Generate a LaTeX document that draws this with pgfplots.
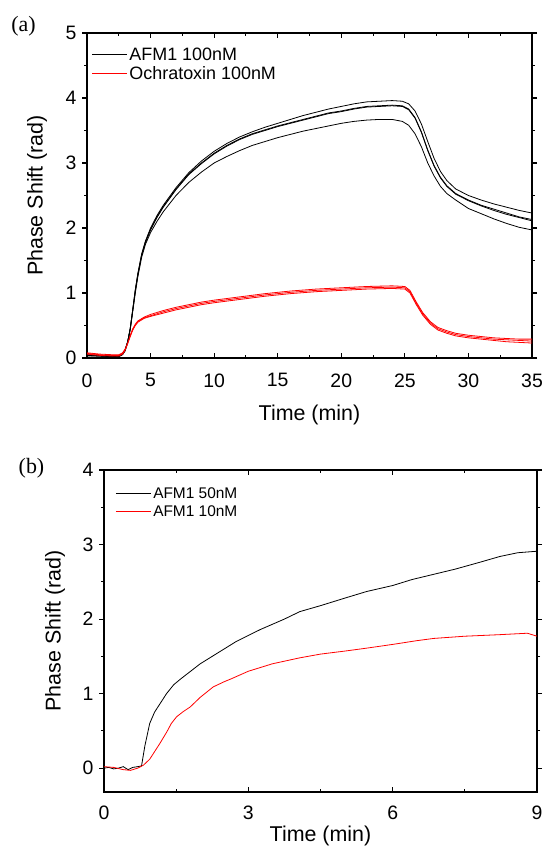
\documentclass[border=0pt]{standalone}
\usepackage{pgfplots}
\pgfplotsset{compat=1.18}
\usepackage{fontspec}
\setmainfont{Liberation Sans}
\newfontfamily\seriffont{Liberation Serif}

\pgfplotsset{
  panel/.style={
    scale only axis,
    axis line style={line width=1.4bp},
    every tick/.style={line width=1.1bp, black},
    major tick length=5bp, minor tick length=3bp,
    xtick align=inside, ytick align=outside,
    minor x tick num=1, minor y tick num=1,
    /pgf/number format/assume math mode=true,
    tick label style={font=\fontsize{19.5}{22}\selectfont},
    label style={font=\fontsize{21.5}{25}\selectfont},
    legend cell align=left,
    legend image code/.code={\draw[#1] (0bp,0bp) -- (35bp,0bp);},
  },
}

\begin{document}
\begin{tikzpicture}[x=1bp,y=1bp]
\useasboundingbox (0,0) rectangle (544,852);

% (a)
\begin{axis}[panel,
  at={(87bp,494bp)}, anchor=south west,
  width=445bp, height=325bp,
  xmin=0, xmax=35, ymin=0, ymax=5,
  xtick={0,5,...,35}, ytick={0,1,...,5},
  xticklabel style={yshift=-12bp},
  yticklabel style={xshift=-2bp},
  xlabel={Time (min)}, ylabel={Phase Shift (rad)},
  xlabel style={at={(axis description cs:0.5,-0.175)}, anchor=center},
  ylabel style={at={(axis description cs:-0.112,0.5)}, anchor=center},
  legend style={at={(axis description cs:0.01,0.962)}, anchor=north west,
    draw=none, fill=none, inner sep=0pt,
    font=\fontsize{18}{20}\selectfont, row sep=0.5bp},
]
\addplot[black, line width=0.8bp] coordinates {
(0,0.05)(1,0.04)(2,0.03)(2.5,0.03)(2.8,0.06)(3,0.12)(3.2,0.25)(3.4,0.45)(3.6,0.75)(3.8,1.05)(4,1.3)(4.3,1.6)(4.6,1.8)(5,2.0)(5.5,2.19)(6,2.35)(7,2.62)(8,2.85)(9,3.03)(10,3.18)(11,3.3)(12,3.4)(13,3.48)(14,3.55)(15,3.61)(16,3.67)(17,3.73)(18,3.78)(19,3.83)(20,3.87)(21,3.91)(22,3.94)(23,3.95)(24,3.96)(24.8,3.95)(25.3,3.91)(25.8,3.8)(26.3,3.6)(26.8,3.33)(27.3,3.07)(27.8,2.87)(28.3,2.73)(29,2.6)(30,2.5)(31,2.43)(32,2.37)(33,2.32)(34,2.27)(35,2.23)
};
\addplot[red, line width=0.8bp] coordinates {
(0,0.08)(0.5,0.07)(1,0.06)(2,0.05)(2.5,0.05)(2.8,0.08)(3,0.14)(3.2,0.24)(3.4,0.35)(3.6,0.45)(3.8,0.52)(4,0.57)(4.5,0.63)(5,0.67)(6,0.73)(7,0.78)(8,0.82)(9,0.86)(10,0.89)(12,0.94)(14,0.99)(16,1.03)(18,1.06)(20,1.08)(22,1.1)(24,1.11)(25,1.1)(25.4,1.04)(25.9,0.86)(26.4,0.7)(27,0.56)(27.6,0.47)(28.3,0.42)(29,0.38)(30,0.35)(31,0.33)(32,0.31)(33,0.3)(34,0.29)(35,0.29)
};
\legend{AFM1 100nM, Ochratoxin 100nM}
\addplot[black, line width=0.8bp] coordinates {
(0,0.04)(1,0.03)(2,0.03)(2.5,0.03)(2.8,0.06)(3,0.12)(3.2,0.25)(3.4,0.45)(3.6,0.74)(3.8,1.04)(4,1.29)(4.3,1.59)(4.6,1.79)(5,1.98)(5.5,2.17)(6,2.33)(7,2.6)(8,2.83)(9,3.0)(10,3.15)(11,3.27)(12,3.37)(13,3.45)(14,3.51)(15,3.57)(16,3.62)(17,3.67)(18,3.72)(19,3.77)(20,3.8)(21,3.84)(22,3.87)(23,3.88)(24,3.89)(24.8,3.88)(25.3,3.83)(25.8,3.7)(26.3,3.48)(26.8,3.2)(27.3,2.96)(27.8,2.78)(28.3,2.65)(29,2.53)(30,2.43)(31,2.35)(32,2.29)(33,2.23)(34,2.17)(35,2.13)
};
\addplot[black, line width=0.8bp] coordinates {
(0,0.04)(1,0.03)(2,0.02)(2.5,0.03)(2.8,0.06)(3,0.12)(3.2,0.25)(3.4,0.45)(3.6,0.74)(3.8,1.04)(4,1.28)(4.3,1.58)(4.6,1.78)(5,1.97)(5.5,2.16)(6,2.32)(7,2.59)(8,2.82)(9,2.99)(10,3.14)(11,3.26)(12,3.36)(13,3.44)(14,3.5)(15,3.56)(16,3.61)(17,3.66)(18,3.71)(19,3.76)(20,3.79)(21,3.83)(22,3.86)(23,3.87)(24,3.88)(24.8,3.87)(25.3,3.82)(25.8,3.69)(26.3,3.47)(26.8,3.19)(27.3,2.95)(27.8,2.77)(28.3,2.64)(29,2.52)(30,2.42)(31,2.34)(32,2.27)(33,2.21)(34,2.16)(35,2.11)
};
\addplot[black, line width=0.8bp] coordinates {
(0,0.03)(1,0.03)(2,0.02)(2.5,0.02)(2.8,0.05)(3,0.11)(3.2,0.24)(3.4,0.44)(3.6,0.72)(3.8,1.0)(4,1.25)(4.3,1.55)(4.6,1.75)(5,1.93)(5.5,2.1)(6,2.25)(7,2.5)(8,2.7)(9,2.86)(10,3.0)(11,3.1)(12,3.19)(13,3.27)(14,3.33)(15,3.39)(16,3.44)(17,3.49)(18,3.53)(19,3.57)(20,3.61)(21,3.64)(22,3.66)(23,3.67)(24,3.67)(24.8,3.64)(25.3,3.58)(25.8,3.45)(26.3,3.25)(26.8,3.0)(27.3,2.8)(27.8,2.64)(28.3,2.53)(29,2.43)(30,2.3)(31,2.22)(32,2.14)(33,2.07)(34,2.01)(35,1.97)
};
\addplot[red, line width=0.8bp] coordinates {
(0,0.07)(0.5,0.06)(1,0.05)(2,0.04)(2.5,0.04)(2.8,0.07)(3,0.13)(3.2,0.23)(3.4,0.34)(3.6,0.44)(3.8,0.51)(4,0.56)(4.5,0.62)(5,0.65)(6,0.71)(7,0.76)(8,0.8)(9,0.84)(10,0.87)(12,0.92)(14,0.97)(16,1.01)(18,1.04)(20,1.06)(22,1.08)(24,1.09)(25,1.08)(25.4,1.02)(25.9,0.84)(26.4,0.68)(27,0.54)(27.6,0.45)(28.3,0.4)(29,0.36)(30,0.33)(31,0.31)(32,0.29)(33,0.28)(34,0.27)(35,0.26)
};
\addplot[red, line width=0.8bp] coordinates {
(0,0.06)(0.5,0.05)(1,0.04)(2,0.03)(2.5,0.03)(2.8,0.06)(3,0.12)(3.2,0.22)(3.4,0.33)(3.6,0.43)(3.8,0.5)(4,0.55)(4.5,0.61)(5,0.64)(6,0.69)(7,0.74)(8,0.78)(9,0.82)(10,0.85)(12,0.9)(14,0.95)(16,0.99)(18,1.02)(20,1.04)(22,1.06)(24,1.07)(25,1.06)(25.4,1.0)(25.9,0.82)(26.4,0.66)(27,0.52)(27.6,0.43)(28.3,0.38)(29,0.34)(30,0.31)(31,0.29)(32,0.27)(33,0.25)(34,0.24)(35,0.23)
};
\end{axis}

% (b)
\begin{axis}[panel,
  at={(104bp,60bp)}, anchor=south west,
  width=433bp, height=322bp,
  xmin=0, xmax=9, ymin=-0.32, ymax=4,
  xtick={0,3,6,9}, ytick={0,1,...,4},
  xticklabel style={yshift=-10bp},
  yticklabel style={xshift=-2bp},
  xlabel={Time (min)}, ylabel={Phase Shift (rad)},
  xlabel style={at={(axis description cs:0.5,-0.137)}, anchor=center},
  ylabel style={at={(axis description cs:-0.113,0.5)}, anchor=center},
  legend style={at={(axis description cs:0.026,0.952)}, anchor=north west,
    draw=none, fill=none, inner sep=0pt,
    font=\fontsize{15.5}{17}\selectfont, row sep=1.5bp},
]
\addplot[black, line width=0.8bp] coordinates {
(0,0.0)(0.1,0.01)(0.2,-0.01)(0.3,0.0)(0.4,0.02)(0.5,-0.02)(0.6,0.01)(0.7,0.02)(0.78,0.03)(0.85,0.3)(0.95,0.6)(1.05,0.75)(1.2,0.9)(1.3,1.0)(1.45,1.12)(1.6,1.2)(1.8,1.3)(2,1.4)(2.25,1.5)(2.5,1.6)(2.75,1.7)(3,1.78)(3.25,1.86)(3.5,1.93)(3.75,2.0)(4.07,2.1)(4.5,2.18)(5,2.28)(5.46,2.37)(6,2.45)(6.4,2.53)(6.85,2.6)(7.3,2.67)(7.8,2.76)(8.23,2.84)(8.6,2.89)(9,2.91)
};
\addplot[red, line width=0.8bp] coordinates {
(0,0.02)(0.2,0.01)(0.4,-0.02)(0.55,-0.03)(0.7,0.0)(0.82,0.04)(0.95,0.12)(1.05,0.22)(1.16,0.33)(1.3,0.48)(1.4,0.6)(1.51,0.69)(1.65,0.76)(1.79,0.82)(2,0.95)(2.27,1.09)(2.5,1.16)(2.65,1.2)(3,1.3)(3.5,1.4)(4.07,1.48)(4.5,1.53)(5,1.57)(5.46,1.61)(6,1.66)(6.5,1.71)(6.85,1.74)(7.5,1.77)(8.2,1.79)(8.8,1.81)(9,1.77)
};
\legend{AFM1 50nM, AFM1 10nM}
\end{axis}

\node[font=\seriffont\fontsize{22}{24}\selectfont] at (23.5,826) {(a)};
\node[font=\seriffont\fontsize{22}{24}\selectfont] at (31.5,384) {(b)};
\end{tikzpicture}
\end{document}
